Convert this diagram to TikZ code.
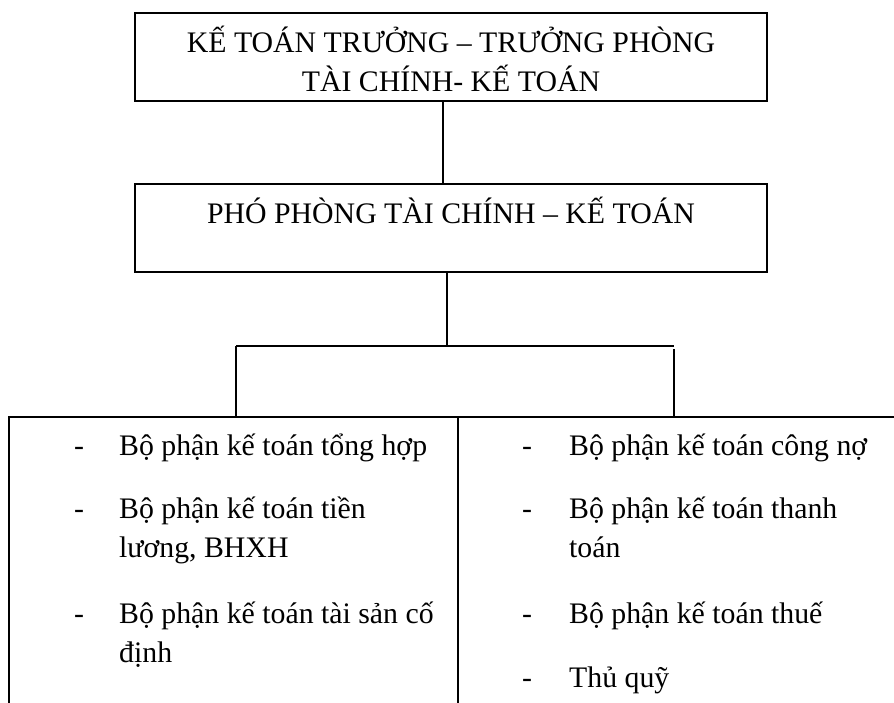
\documentclass[tikz,border=0pt]{standalone}
\usepackage{fontspec}
\setmainfont{Liberation Serif}
% body text size and line pitch used throughout the chart
\newcommand{\chartfont}{\fontsize{29.8}{39}\selectfont}
% fixes the height of a first line so nodes can be placed by their first baseline
\newcommand{\firstline}{\rule{0pt}{34pt}}
\begin{document}
\begin{tikzpicture}[x=1pt,y=1pt,
  frame/.style={draw=black, line width=1.5pt, rectangle, inner sep=0pt},
  link/.style={draw=black, line width=1.3pt},
  title/.style={inner sep=0pt, anchor=north, align=center, font=\chartfont},
  dashmark/.style={inner sep=0pt, anchor=base, font=\chartfont},
  item/.style={inner sep=0pt, anchor=north west, align=left, font=\chartfont}]

\useasboundingbox (0,0) rectangle (894,-702);
\clip (0,0) rectangle (894,-702);

% chief accountant box
\node[frame, minimum width=632, minimum height=88] (chief) at (451,-57) {};
\node[title] (chief-text) at (451,-18)
  {\firstline KẾ TOÁN TRƯỞNG – TRƯỞNG PHÒNG\\TÀI CHÍNH- KẾ TOÁN};

% deputy head box
\node[frame, minimum width=632, minimum height=88] (deputy) at (451,-228) {};
\node[title] (deputy-text) at (451,-189)
  {\firstline PHÓ PHÒNG TÀI CHÍNH – KẾ TOÁN};

% units box (runs off the lower and right edges)
\node[frame, minimum width=900, minimum height=300] (units) at (459,-567) {};
\coordinate (divtop) at (458,-417);
\draw[frame] (divtop) -- (divtop |- units.south);

% connectors
\coordinate (fork) at (447,-346);
\coordinate (forkl) at (236,-346);
\coordinate (forkr) at (674,-346);
\draw[link] ([xshift=-8pt]chief.south) -- ([xshift=-8pt]deputy.north);
\draw[link] (deputy.south -| fork) -- (fork);
\draw[link] (forkl) -- (forkr);
\draw[link] (forkl) -- (forkl |- units.north);
\draw[link] ([yshift=-3pt]forkr) -- (forkr |- units.north);

% left column
\node[dashmark] (dl1) at (79,-455) {-};
\node[item] (l1) at (119,-421) {\firstline Bộ phận kế toán tổng hợp};
\node[dashmark] (dl2) at (79,-518) {-};
\node[item] (l2) at (119,-484) {\firstline Bộ phận kế toán tiền\\lương, BHXH};
\node[dashmark] (dl3) at (79,-623) {-};
\node[item] (l3) at (119,-589) {\firstline Bộ phận kế toán tài sản cố\\định};

% right column
\node[dashmark] (dr1) at (527,-455) {-};
\node[item] (r1) at (569,-421) {\firstline Bộ phận kế toán công nợ};
\node[dashmark] (dr2) at (527,-518) {-};
\node[item] (r2) at (569,-484) {\firstline Bộ phận kế toán thanh\\toán};
\node[dashmark] (dr3) at (527,-623) {-};
\node[item] (r3) at (569,-589) {\firstline Bộ phận kế toán thuế};
\node[dashmark] (dr4) at (527,-687) {-};
\node[item] (r4) at (569,-653) {\firstline Thủ quỹ};
\end{tikzpicture}
\end{document}
